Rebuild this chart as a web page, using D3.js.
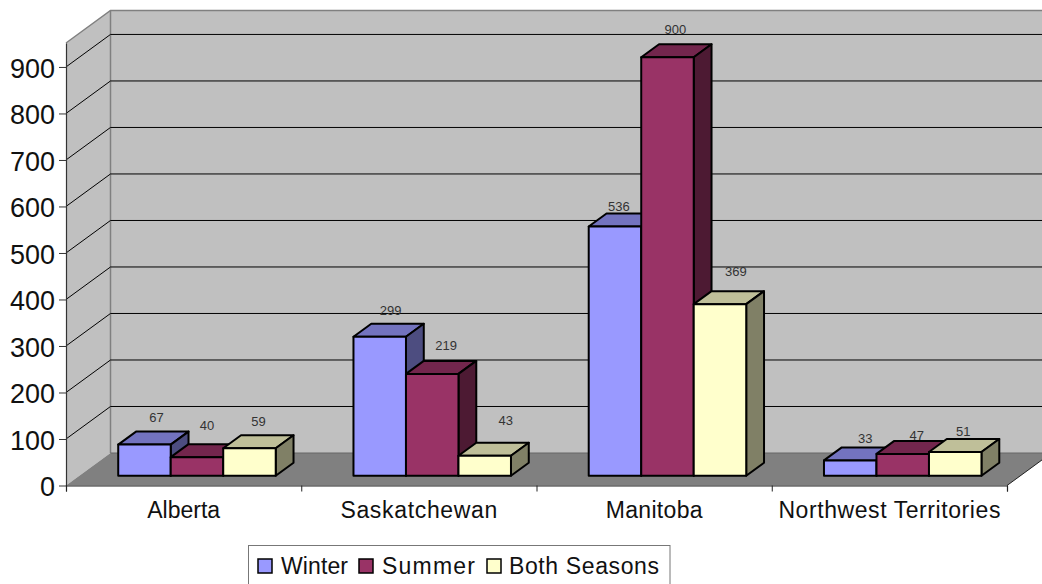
<!DOCTYPE html>
<html>
<head>
<meta charset="utf-8">
<script src="https://cdn.jsdelivr.net/npm/d3@7"></script>
<style>
  html, body { margin: 0; padding: 0; background: #fff; }
  svg { display: block; }
  text { font-family: "Liberation Sans", Arial, sans-serif; fill: #111; }
</style>
</head>
<body>
<svg width="1042" height="584"></svg>
<script>
// Data
var categories = ["Alberta", "Saskatchewan", "Manitoba", "Northwest Territories"];
var seriesNames = ["Winter", "Summer", "Both Seasons"];
var winter = [67, 299, 536, 33];
var summer = [40, 219, 900, 47];
var bothSeasons = [59, 43, 369, 51];
var yTicks = [0, 100, 200, 300, 400, 500, 600, 700, 800, 900];

var values = [winter, summer, bothSeasons];
var colors = [
  {front: "#9999ff", top: "#7373bf", side: "#4d4d80"},
  {front: "#993366", top: "#73264d", side: "#4d1a33"},
  {front: "#ffffcc", top: "#bfbf99", side: "#808066"}
];

// the value labels sit a bit irregularly in the original, [dx, dy] per series then category
var labelNudge = [
  [[12, -14], [11, -13], [4, -7], [15, -9]],
  [[10, -19], [14, -16], [8, -15], [14, -6]],
  [[9, -14], [21, -22], [16, -20], [8, -8]]
];

var svg = d3.select("svg"),
  width = +svg.attr("width"),
  height = +svg.attr("height");

// Scales
var left = 66, right = 1007, bottom = 485.5;
var depthX = 44.5, depthY = 32.5;

var x0 = d3.scaleBand().domain(categories).range([left, right]).paddingInner(0.3305).paddingOuter(0.16525);
var x1 = d3.scaleBand().domain(seriesNames).range([0, x0.bandwidth()]);
var xEdge = d3.scaleLinear().domain([0, categories.length]).range([left, right]);
var y = d3.scaleLinear().domain([0, 951.5]).range([bottom, 43]);

// project a point (screen x on the front plane, value, depth 0..1) to the page
function px(x, z) { return x + z * depthX; }
function py(v, z) { return y(v) - z * depthY; }
function poly(pts) { return pts.map(function(p) { return p.join(","); }).join(" "); }

var yTop = y.domain()[1];

// Walls and floor
svg.append("polygon")
  .attr("points", poly([[px(left, 0), py(0, 0)], [px(left, 1), py(0, 1)], [px(left, 1), py(yTop, 1)], [px(left, 0), py(yTop, 0)]]))
  .attr("fill", "#c0c0c0");
svg.append("polygon")
  .attr("points", poly([[px(left, 1), py(0, 1)], [px(right, 1), py(0, 1)], [px(right, 1), py(yTop, 1)], [px(left, 1), py(yTop, 1)]]))
  .attr("fill", "#c0c0c0");
svg.append("polygon")
  .attr("points", poly([[px(left, 0), py(0, 0)], [px(left, 1), py(0, 1)], [px(right, 1), py(0, 1)], [px(right, 0), py(0, 0)]]))
  .attr("fill", "#808080");

// Wall edges
svg.append("polyline")
  .attr("points", poly([[px(left, 0), py(yTop, 0)], [px(left, 1), py(yTop, 1)], [px(right, 1), py(yTop, 1)]]))
  .attr("fill", "none").attr("stroke", "#808080").attr("stroke-width", 1.5);
svg.append("line")
  .attr("x1", px(left, 1)).attr("x2", px(left, 1)).attr("y1", py(0, 1)).attr("y2", py(yTop, 1))
  .attr("stroke", "#808080").attr("stroke-width", 1.5);
svg.append("line")
  .attr("x1", px(left, 1)).attr("x2", px(right, 1)).attr("y1", py(0, 1)).attr("y2", py(0, 1))
  .attr("stroke", "#666").attr("stroke-width", 1);

// Gridlines, back wall and side wall
var gridTicks = yTicks.slice(1);
svg.append("g").selectAll("line.back")
  .data(gridTicks).enter().append("line")
  .attr("x1", px(left, 1)).attr("x2", px(right, 1))
  .attr("y1", function(d) { return py(d, 1); })
  .attr("y2", function(d) { return py(d, 1); })
  .attr("stroke", "#000").attr("stroke-width", 1);
svg.append("g").selectAll("line.side")
  .data(gridTicks).enter().append("line")
  .attr("x1", px(left, 0)).attr("x2", px(left, 1))
  .attr("y1", function(d) { return py(d, 0); })
  .attr("y2", function(d) { return py(d, 1); })
  .attr("stroke", "#000").attr("stroke-width", 1);

// Bars, left to right so that each one covers the side of the previous one
var z0 = 0.3, z1 = 0.7;
categories.forEach(function(cat, c) {
  seriesNames.forEach(function(name, s) {
    var v = values[s][c];
    var xa = x0(cat) + x1(name), xb = xa + x1.bandwidth();
    var g = svg.append("g").attr("stroke", "#000").attr("stroke-width", 2).attr("stroke-linejoin", "round");
    g.append("polygon")
      .attr("points", poly([[px(xa, z0), py(v, z0)], [px(xa, z1), py(v, z1)], [px(xb, z1), py(v, z1)], [px(xb, z0), py(v, z0)]]))
      .attr("fill", colors[s].top);
    g.append("polygon")
      .attr("points", poly([[px(xb, z0), py(0, z0)], [px(xb, z1), py(0, z1)], [px(xb, z1), py(v, z1)], [px(xb, z0), py(v, z0)]]))
      .attr("fill", colors[s].side);
    g.append("polygon")
      .attr("points", poly([[px(xa, z0), py(0, z0)], [px(xb, z0), py(0, z0)], [px(xb, z0), py(v, z0)], [px(xa, z0), py(v, z0)]]))
      .attr("fill", colors[s].front);
  });
});

// Value labels go on top of all the bars
categories.forEach(function(cat, c) {
  seriesNames.forEach(function(name, s) {
    var v = values[s][c];
    var xa = x0(cat) + x1(name);
    svg.append("text")
      .attr("x", px(xa + x1.bandwidth() / 2, z0) + labelNudge[s][c][0])
      .attr("y", py(v, z1) + labelNudge[s][c][1])
      .attr("dy", "0.36em")
      .attr("text-anchor", "middle")
      .attr("font-size", 13)
      .style("fill", "#333")
      .text(v);
  });
});

// Axes
var yAxis = svg.append("g")
  .attr("transform", "translate(" + left + ",0)")
  .call(d3.axisLeft(y).tickValues(yTicks).tickSize(7).tickSizeOuter(0).tickPadding(4).tickFormat(d3.format("d")));
yAxis.select(".domain").attr("stroke", "#333").attr("stroke-width", 1.2);
yAxis.selectAll(".tick line").attr("stroke", "#333");
// the original digits are a little taller than they are wide
yAxis.selectAll("text").attr("font-size", 28).attr("font-family", null).attr("dy", "0.36em")
  .attr("lengthAdjust", "spacingAndGlyphs")
  .attr("textLength", function(d) { return 15 * String(d).length; });

var xAxis = svg.append("g")
  .attr("transform", "translate(0," + bottom + ")")
  .call(d3.axisBottom(xEdge).ticks(categories.length).tickSize(6).tickFormat(""));
xAxis.select(".domain").attr("stroke", "#222").attr("stroke-width", 1.2);
xAxis.selectAll(".tick line").attr("stroke", "#222");

var xLabels = svg.append("g")
  .attr("transform", "translate(0," + bottom + ")")
  .call(d3.axisBottom(x0).tickSize(0).tickPadding(16));
xLabels.select(".domain").remove();
xLabels.selectAll("text").attr("font-size", 23).attr("font-family", null)
  .attr("textLength", function(d, i) { return [73, 157, 97, 222][i]; });

// Floor's right edge
svg.append("line")
  .attr("x1", px(right, 0)).attr("y1", py(0, 0))
  .attr("x2", px(right, 1)).attr("y2", py(0, 1))
  .attr("stroke", "#222").attr("stroke-width", 1);

// Legend
var swatchX = [258, 359, 487];
var legendTextX = [281, 382, 509];
var legendWidths = [67, 93, 150];
var legend = svg.append("g");
legend.append("rect")
  .attr("x", 248.5).attr("y", 545.5).attr("width", 421.5).attr("height", 60)
  .attr("fill", "#fff").attr("stroke", "#777").attr("stroke-width", 1);
seriesNames.forEach(function(name, s) {
  legend.append("rect")
    .attr("x", swatchX[s]).attr("y", 559)
    .attr("width", 14).attr("height", 14)
    .attr("fill", colors[s].front).attr("stroke", "#000").attr("stroke-width", 1.5);
  legend.append("text")
    .attr("x", legendTextX[s]).attr("y", 574)
    .attr("font-size", 23)
    .attr("textLength", legendWidths[s])
    .text(name);
});
</script>
</body>
</html>
